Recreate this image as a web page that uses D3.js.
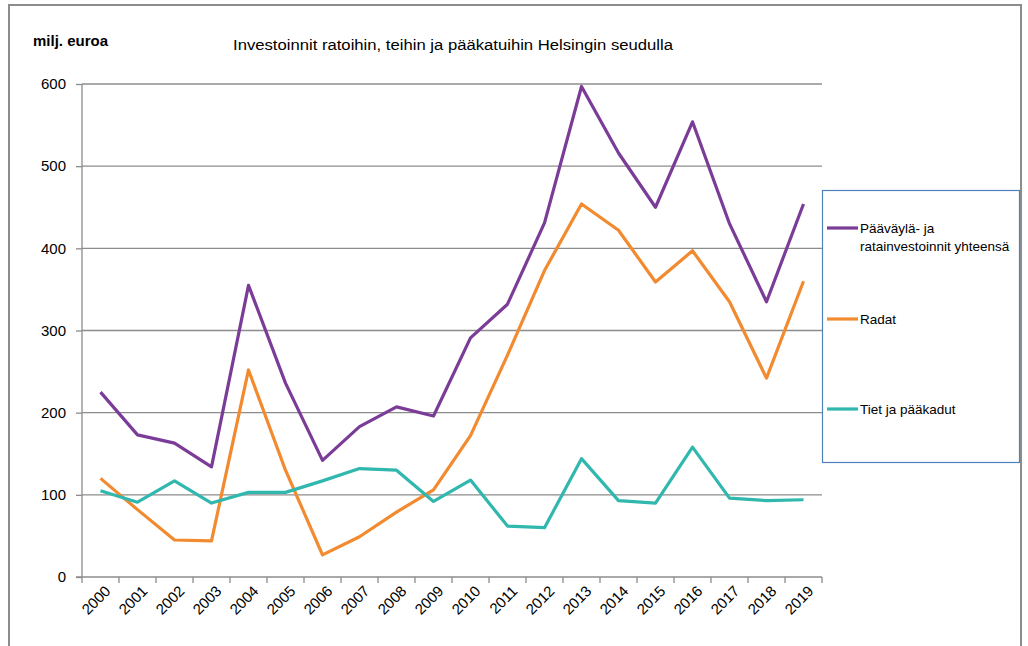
<html>
<head>
<meta charset="utf-8">
<script src="https://d3js.org/d3.v7.min.js"></script>
<style>
  body { margin: 0; background: #fff; }
  text { font-family: "Liberation Sans", Arial, sans-serif; fill: #000; }
</style>
</head>
<body>
<svg width="1028" height="646"></svg>
<script>
var years = ["2000","2001","2002","2003","2004","2005","2006","2007","2008","2009",
             "2010","2011","2012","2013","2014","2015","2016","2017","2018","2019"];
var yhteensa = [225, 173, 163, 134, 355, 236, 142, 183, 207, 196,
                291, 332, 431, 597, 516, 450, 554, 430, 335, 454];
var radat    = [120, 82, 45, 44, 252, 130, 27, 49, 79, 106,
                172, 270, 373, 454, 422, 359, 397, 335, 242, 360];
var tiet     = [105, 91, 117, 90, 103, 103, 117, 132, 130, 92,
                118, 62, 60, 144, 93, 90, 158, 96, 93, 94];
var yTicks = [0, 100, 200, 300, 400, 500, 600];
var seriesNames = [["Pääväylä- ja", "ratainvestoinnit yhteensä"], ["Radat"], ["Tiet ja pääkadut"]];
var colors = ["#7b3c98", "#f28a30", "#30b7ae"];

var svg = d3.select("svg");
var pL = 82, pR = 822, pT = 84, pB = 577;

// outer frame
svg.append("rect")
    .attr("x", 9).attr("y", 5).attr("width", 1012).attr("height", 660)
    .attr("fill", "none").attr("stroke", "#8c8c8c").attr("stroke-width", 2);

var x = d3.scaleBand().domain(years).range([pL, pR]);
var y = d3.scaleLinear().domain([0, 600]).range([pB, pT]);

// gridlines
svg.append("g").selectAll("line")
    .data(yTicks.filter(d => d > 0))
    .enter().append("line")
    .attr("x1", pL).attr("x2", pR)
    .attr("y1", d => y(d)).attr("y2", d => y(d))
    .attr("stroke", "#8c8c8c").attr("stroke-width", 1.3);

// y axis
var yAxis = d3.axisLeft(y).tickValues(yTicks).tickSize(6).tickPadding(10);
var gy = svg.append("g").attr("transform", "translate(" + pL + ",0)").call(yAxis);
gy.selectAll("path, line").attr("stroke", "#8c8c8c").attr("stroke-width", 1.3);
gy.select(".domain").attr("d", "M0," + pT + "V" + pB);
gy.selectAll("text").attr("font-size", 15).attr("font-family", "Liberation Sans, Arial, sans-serif").attr("fill", "#000");

// x axis
var gx = svg.append("g");
gx.append("line")
    .attr("x1", pL - 6).attr("x2", pR).attr("y1", pB).attr("y2", pB)
    .attr("stroke", "#8c8c8c").attr("stroke-width", 1.3);
gx.selectAll(".tk")
    .data(years.map(d => x(d)).concat([pR]))
    .enter().append("line").attr("class", "tk")
    .attr("x1", d => d).attr("x2", d => d)
    .attr("y1", pB).attr("y2", pB + 6)
    .attr("stroke", "#8c8c8c").attr("stroke-width", 1.3);
gx.selectAll("text")
    .data(years)
    .enter().append("text")
    .attr("text-anchor", "end")
    .attr("font-size", 15)
    .attr("transform", d => "translate(" + (x(d) + x.bandwidth() / 2 + 11) + "," + (pB + 15) + ") rotate(-45)")
    .text(d => d);

// lines
var cx = d => x(d) + x.bandwidth() / 2;
var line = d3.line()
    .x((d, i) => cx(years[i]))
    .y(d => y(d));
[yhteensa, radat, tiet].forEach(function (s, k) {
  svg.append("path")
      .datum(s)
      .attr("d", line)
      .attr("fill", "none")
      .attr("stroke", colors[k])
      .attr("stroke-width", 3.2)
      .attr("stroke-linejoin", "round");
});

// titles
svg.append("text").attr("x", 33).attr("y", 46)
    .attr("font-size", 15).attr("font-weight", "bold")
    .text("milj. euroa");
svg.append("text").attr("x", 233).attr("y", 50)
    .attr("font-size", 15.5).attr("textLength", 440).attr("lengthAdjust", "spacingAndGlyphs")
    .text("Investoinnit ratoihin, teihin ja pääkatuihin Helsingin seudulla");

// legend
var lg = svg.append("g");
lg.append("rect")
    .attr("x", 822.5).attr("y", 190.5).attr("width", 197).attr("height", 272)
    .attr("fill", "#fff").attr("stroke", "#4f81bd").attr("stroke-width", 1.2);
var legY = [228, 319, 409];
seriesNames.forEach(function (names, k) {
  lg.append("line")
      .attr("x1", 827).attr("x2", 858)
      .attr("y1", legY[k]).attr("y2", legY[k])
      .attr("stroke", colors[k]).attr("stroke-width", 3.2);
  names.forEach(function (t, j) {
    lg.append("text")
        .attr("x", 860).attr("y", legY[k] + 5 + j * 18)
        .attr("font-size", 13.5)
        .text(t);
  });
});
</script>
</body>
</html>
